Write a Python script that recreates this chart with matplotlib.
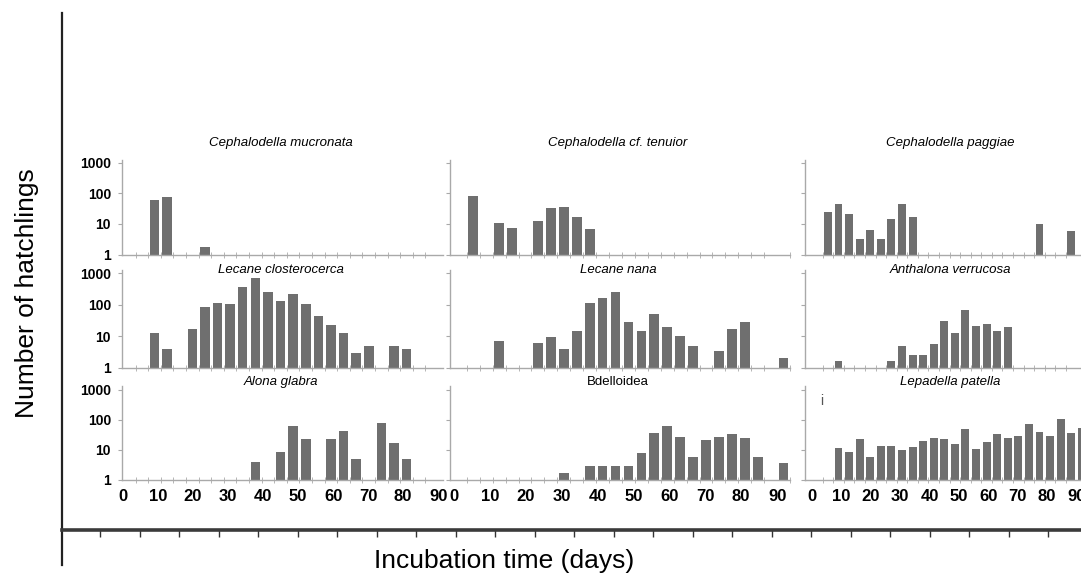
import numpy as np
import matplotlib
matplotlib.use('Agg')
import matplotlib.pyplot as plt
from matplotlib.ticker import FixedLocator, NullFormatter, NullLocator

plt.rcParams['font.family'] = ['Liberation Sans', 'DejaVu Sans']

W, H = 1081, 577

# bin centres (days) shared by all panels
bin_days = [1.8, 5.4, 9.0, 12.6, 16.2, 19.8, 23.4, 27.0, 30.6, 34.2, 37.8, 41.4, 45.0,
            48.6, 52.2, 55.8, 59.4, 63.0, 66.6, 70.2, 73.8, 77.4, 81.0, 84.6, 88.2, 91.8]
day_ticks = [0, 10, 20, 30, 40, 50, 60, 70, 80, 90]
log_ticks = [1, 10, 100, 1000]
log_labels = ['1', '10', '100', '1000']

# number of hatchlings per bin (0 = none)
mucronata = [0, 0, 62, 74, 0, 0, 1.7, 0, 0, 0, 0, 0, 0, 0, 0, 0, 0, 0, 0, 0, 0, 0, 0, 0, 0, 0]
tenuior = [0, 85, 0, 11, 7.6, 0, 12.5, 33, 37, 17, 6.7, 0, 0, 0, 0, 0, 0, 0, 0, 0, 0, 0, 0, 0, 0, 0]
paggiae = [0, 25, 44, 21, 3.3, 6.2, 3.3, 15, 44, 17, 0, 0, 0, 0, 0, 0, 0, 0, 0, 0, 0, 10, 0, 0, 5.9, 0]
closterocerca = [0, 0, 13, 4, 0, 17, 83, 116, 105, 370, 730, 250, 131, 220, 105, 45, 22.5, 12.7,
                 3, 4.9, 0, 4.9, 4, 0, 0, 0]
nana = [0, 0, 0, 7, 0, 0, 5.9, 9.6, 3.9, 15, 110, 167, 247, 29, 15, 49, 20, 10, 4.9, 0, 3.4,
        16.5, 29, 0, 0, 2.05]
verrucosa = [0, 0, 1.6, 0, 0, 0, 0, 1.6, 4.8, 2.5, 2.5, 5.5, 30, 13, 68, 21, 24, 14.5, 20,
             0, 0, 0, 0, 0, 0, 0]
glabra = [0, 0, 0, 0, 0, 0, 0, 0, 0, 0, 3.7, 0, 8.4, 62, 22, 0, 22, 42, 4.7, 0, 78, 16, 4.7, 0, 0, 0]
bdelloidea = [0, 0, 0, 0, 0, 0, 0, 0, 1.7, 0, 2.8, 2.8, 2.8, 2.8, 7.5, 36, 61, 27, 5.8, 21, 27,
              32, 25, 5.8, 0, 3.6]
patella = [0, 0, 11, 8, 22, 5.5, 13.4, 13.4, 9.6, 12.4, 19, 25, 22.4, 15, 47, 10.4, 17.4, 32,
           25, 28, 71, 39, 29, 102, 36, 53]

titles = [['Cephalodella mucronata', 'Cephalodella cf. tenuior', 'Cephalodella paggiae'],
          ['Lecane closterocerca', 'Lecane nana', 'Anthalona verrucosa'],
          ['Alona glabra', 'Bdelloidea', 'Lepadella patella']]
series = [[mucronata, tenuior, paggiae],
          [closterocerca, nana, verrucosa],
          [glabra, bdelloidea, patella]]

# layout in pixels
rows_px = [(254.5, 159.5), (367.5, 269.7), (479.5, 386.1)]       # (bottom, top)
cols_px = [(122, 443, -0.3, 91.4), (450, 790, -1.1, 93.6), (805, 1088, -2.4, 93.9)]
title_y = [143, 270, 382]
title_x = [281, 618, 950]

bar_col = '#6f6f6f'
axis_col = '#a9a9a9'

fig = plt.figure(figsize=(W / 100, H / 100), dpi=100)

# outer frame with the big axis lines
outer = fig.add_axes([62 / W, (H - 565) / H, (1100 - 62) / W, (565 - 13) / H])
outer.set_xlim(62, 1100)
outer.set_ylim(565, 13)
outer.patch.set_visible(False)
outer.spines['top'].set_visible(False)
outer.spines['right'].set_visible(False)
outer.spines['left'].set_linewidth(1.6)
outer.spines['left'].set_color('#222222')
outer.spines['bottom'].set_position(('data', 530))
outer.spines['bottom'].set_linewidth(2.6)
outer.spines['bottom'].set_color('#3a3a3a')
outer.set_xticks(np.arange(100, 1081, 39.5))
outer.set_xticklabels([])
outer.set_yticks([])
outer.tick_params(axis='x', direction='out', length=5, width=1, color='#333333')

fig.text(27 / W, 1 - 293 / H, 'Number of hatchlings', rotation=90, ha='center', va='center',
         fontsize=19)
fig.text(504 / W, 1 - 561 / H, 'Incubation time (days)', ha='center', va='center',
         fontsize=19)

edges = [d - 1.8 for d in bin_days] + [bin_days[-1] + 1.8]

for r in range(3):
    yb, yt = rows_px[r]
    for c in range(3):
        xl, xr, x0, x1 = cols_px[c]
        ax = fig.add_axes([xl / W, (H - yb) / H, (xr - xl) / W, (yb - yt) / H])
        ax.patch.set_visible(False)
        vals = np.array(series[r][c], dtype=float)
        days = np.array(bin_days)
        m = vals > 0
        ax.bar(days[m], vals[m] - 1, bottom=1, width=2.7, color=bar_col, edgecolor='none')
        ax.set_yscale('log')
        ax.set_ylim(1, 1300)
        ax.set_xlim(x0, x1)
        for s in ['top', 'right']:
            ax.spines[s].set_visible(False)
        for s in ['left', 'bottom']:
            ax.spines[s].set_color(axis_col)
            ax.spines[s].set_linewidth(1)
        ax.yaxis.set_major_locator(FixedLocator(log_ticks))
        ax.yaxis.set_minor_locator(NullLocator())
        ax.tick_params(axis='y', direction='out', length=3, color=axis_col, pad=5)
        if c == 0:
            ax.set_yticklabels(log_labels, fontsize=10, fontweight='bold')
        else:
            ax.yaxis.set_major_formatter(NullFormatter())
        ax.xaxis.set_minor_locator(FixedLocator(edges))
        ax.xaxis.set_minor_formatter(NullFormatter())
        ax.tick_params(axis='x', which='minor', direction='inout', length=4, color=axis_col)
        ax.xaxis.set_major_locator(FixedLocator(day_ticks))
        ax.tick_params(axis='x', which='major', length=0, pad=7)
        if r == 2:
            ax.set_xticklabels([str(d) for d in day_ticks], fontsize=12, fontweight='bold')
        else:
            ax.xaxis.set_major_formatter(NullFormatter())
        style = 'normal' if titles[r][c] == 'Bdelloidea' else 'italic'
        fig.text(title_x[c] / W, 1 - title_y[r] / H, titles[r][c], ha='center', va='center',
                 fontsize=9.5, style=style)

fig.text(822 / W, 1 - 401 / H, 'i', ha='center', va='center', fontsize=10, color='#555555')

fig.savefig('out.png', dpi=100)
